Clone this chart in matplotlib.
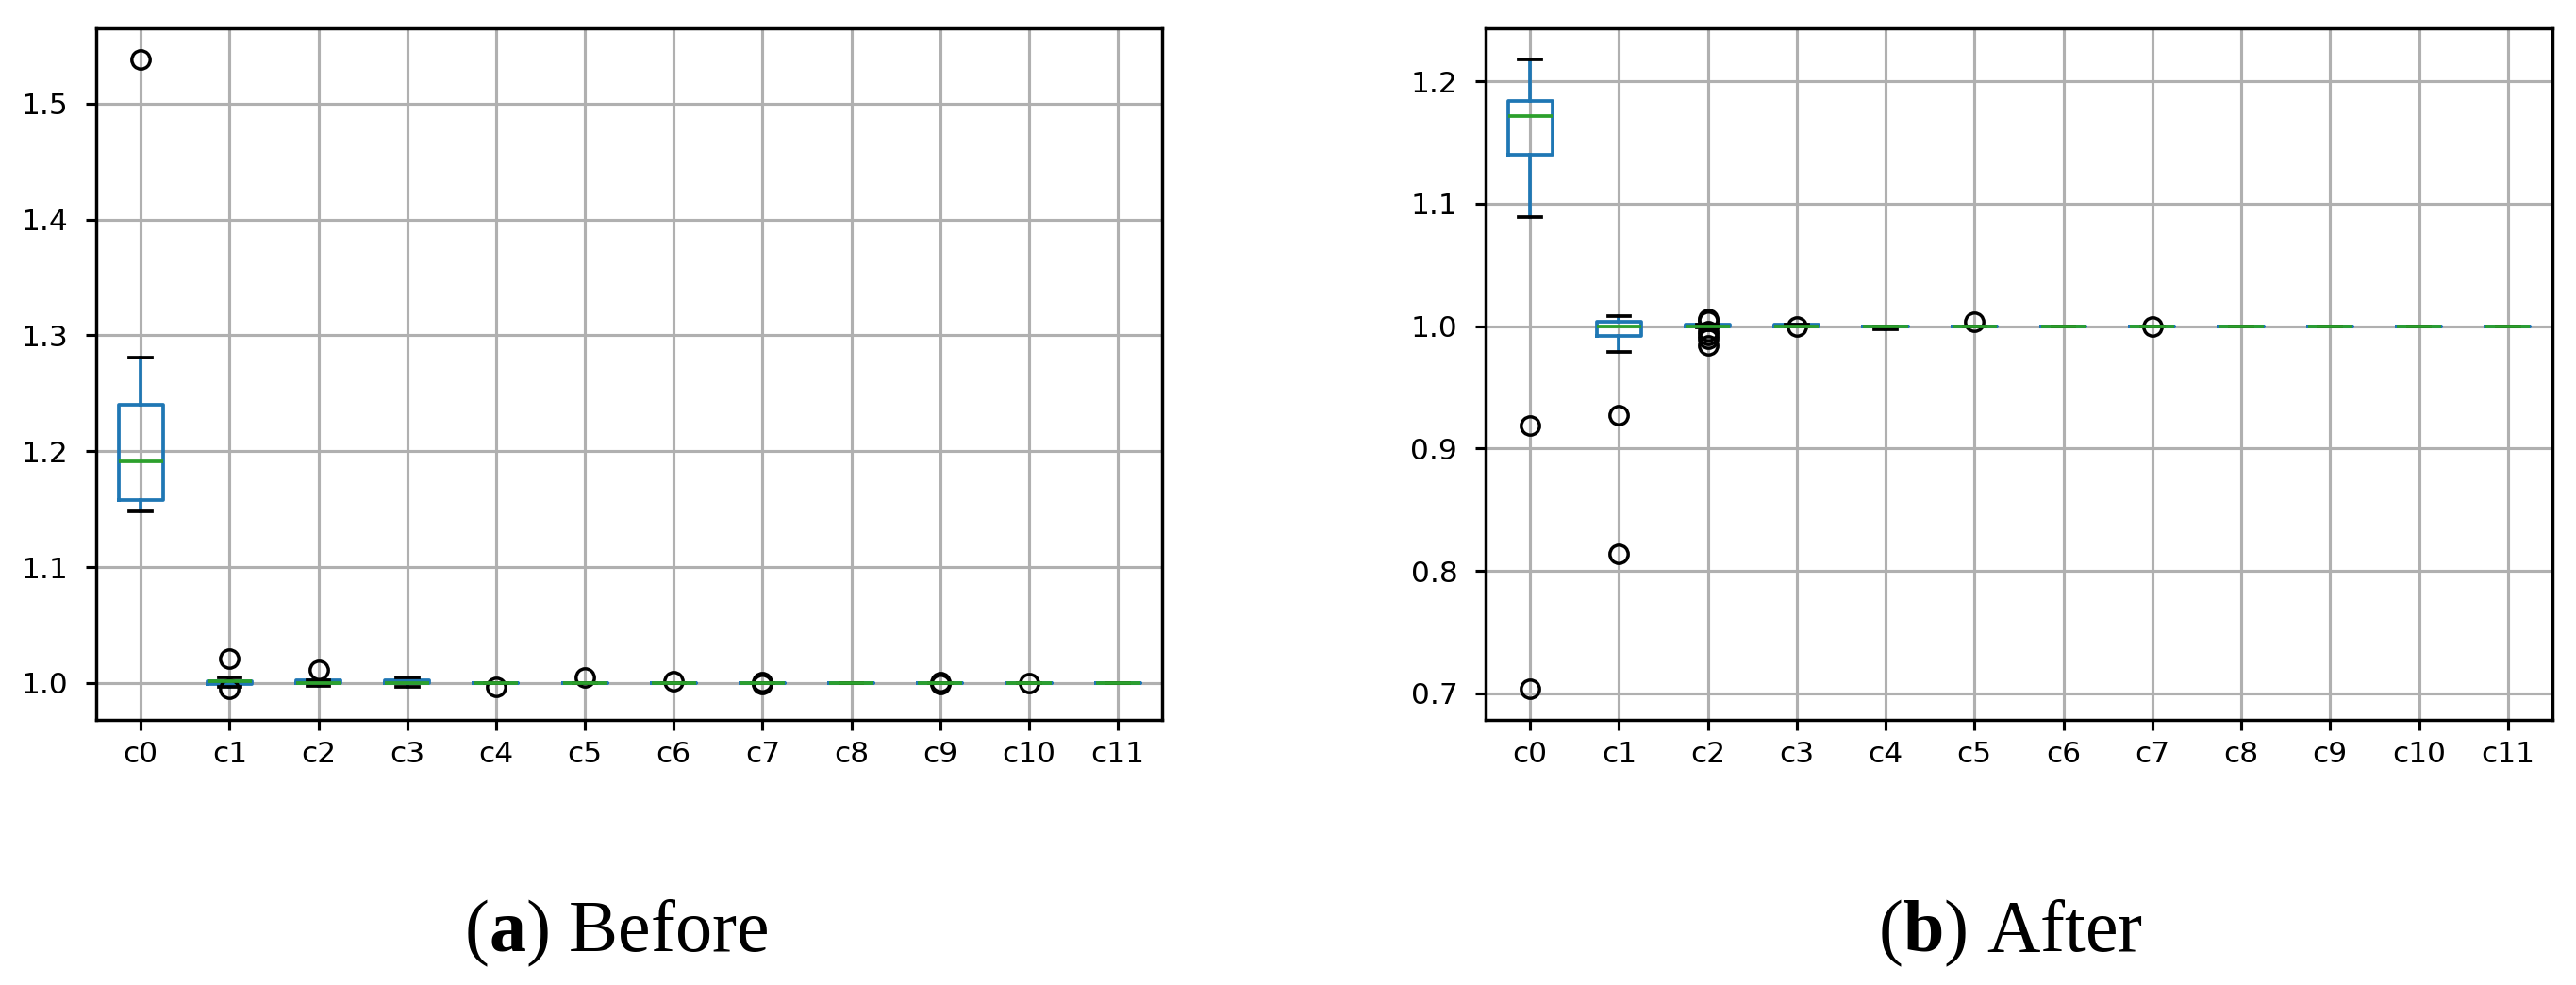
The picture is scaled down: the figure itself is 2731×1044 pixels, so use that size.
import matplotlib.pyplot as plt

plt.rcParams['mathtext.fontset'] = 'custom'
plt.rcParams['mathtext.rm'] = 'Liberation Serif'
plt.rcParams['mathtext.bf'] = 'Liberation Serif:bold'
plt.rcParams['axes.linewidth'] = 1.1
plt.rcParams['grid.linewidth'] = 1.0
plt.rcParams['xtick.major.width'] = 1.0
plt.rcParams['ytick.major.width'] = 1.0

# column names (pandas DataFrame columns)
cols = ['c0', 'c1', 'c2', 'c3', 'c4', 'c5', 'c6', 'c7', 'c8', 'c9', 'c10', 'c11']

# (a) Before - box statistics
before_whislo = [1.148, 0.9968, 0.9975, 0.9968, 1.0, 1.0, 1.0, 1.0, 1.0, 1.0, 1.0, 1.0]
before_q1 = [1.158, 0.999, 1.0, 0.9998, 1.0, 1.0, 1.0, 1.0, 1.0, 1.0, 1.0, 1.0]
before_med = [1.191, 1.0014, 1.0003, 1.0, 1.0, 1.0, 1.0, 1.0, 1.0, 1.0, 1.0, 1.0]
before_q3 = [1.240, 1.0017, 1.0022, 1.0025, 1.0, 1.0, 1.0, 1.0, 1.0, 1.0, 1.0, 1.0]
before_whishi = [1.281, 1.0045, 1.0025, 1.0045, 1.0, 1.0, 1.0, 1.0, 1.0, 1.0, 1.0, 1.0]
before_fliers = [[1.538], [1.021, 0.9955], [1.011], [], [0.997], [1.005], [1.002],
                 [0.9995, 1.0005], [], [0.9995, 1.0005], [1.0], []]

# (b) After
after_whislo = [1.089, 0.979, 0.999, 1.0, 0.9977, 1.0, 1.0, 1.0, 1.0, 1.0, 1.0, 1.0]
after_q1 = [1.140, 0.9918, 1.0, 1.0, 1.0, 1.0, 1.0, 1.0, 1.0, 1.0, 1.0, 1.0]
after_med = [1.172, 1.0, 1.0, 1.0, 1.0, 1.0, 1.0, 1.0, 1.0, 1.0, 1.0, 1.0]
after_q3 = [1.184, 1.0033, 1.001, 1.0012, 1.0, 1.0, 1.0, 1.0, 1.0, 1.0, 1.0, 1.0]
after_whishi = [1.218, 1.0079, 1.0012, 1.0015, 1.0, 1.0, 1.0, 1.0, 1.0, 1.0, 1.0, 1.0]
after_fliers = [[0.919, 0.704], [0.927, 0.814], [1.006, 1.004, 0.996, 0.993, 0.990, 0.984],
                [0.9995], [], [1.0033], [], [1.0], [], [], [], []]


def make_stats(whislo, q1, med, q3, whishi, fliers):
    stats = []
    for i in range(len(cols)):
        stats.append({'label': cols[i], 'whislo': whislo[i], 'q1': q1[i], 'med': med[i],
                      'q3': q3[i], 'whishi': whishi[i], 'fliers': fliers[i]})
    return stats


def draw(ax, stats):
    lw = 1.2
    ax.bxp(stats, positions=range(1, len(cols) + 1), widths=0.5,
           boxprops=dict(color='C0', linewidth=lw), whiskerprops=dict(color='C0', linewidth=lw),
           medianprops=dict(color='C2', linewidth=lw), capprops=dict(color='k', linewidth=lw),
           flierprops=dict(marker='o', markersize=6.2, markeredgewidth=1.1,
                           markeredgecolor='k', markerfacecolor='none'))
    ax.grid(True)
    ax.set_axisbelow(True)
    ax.tick_params(axis='y', pad=6)


dpi = 225
fig = plt.figure(figsize=(2731 / dpi, 1044 / dpi), dpi=dpi)
ax1 = fig.add_axes([0.0374, 0.2693, 0.4138, 0.7023])
ax2 = fig.add_axes([0.5767, 0.2693, 0.4141, 0.7023])

draw(ax1, make_stats(before_whislo, before_q1, before_med, before_q3, before_whishi, before_fliers))
draw(ax2, make_stats(after_whislo, after_q1, after_med, after_q3, after_whishi, after_fliers))

fig.text(0.2391, 0.0345, r'($\mathbf{a}$) Before', ha='center', va='baseline',
         family='Liberation Serif', fontsize=25)
fig.text(0.7806, 0.0345, r'($\mathbf{b}$) After', ha='center', va='baseline',
         family='Liberation Serif', fontsize=25)

fig.savefig('out.png', dpi=dpi)
